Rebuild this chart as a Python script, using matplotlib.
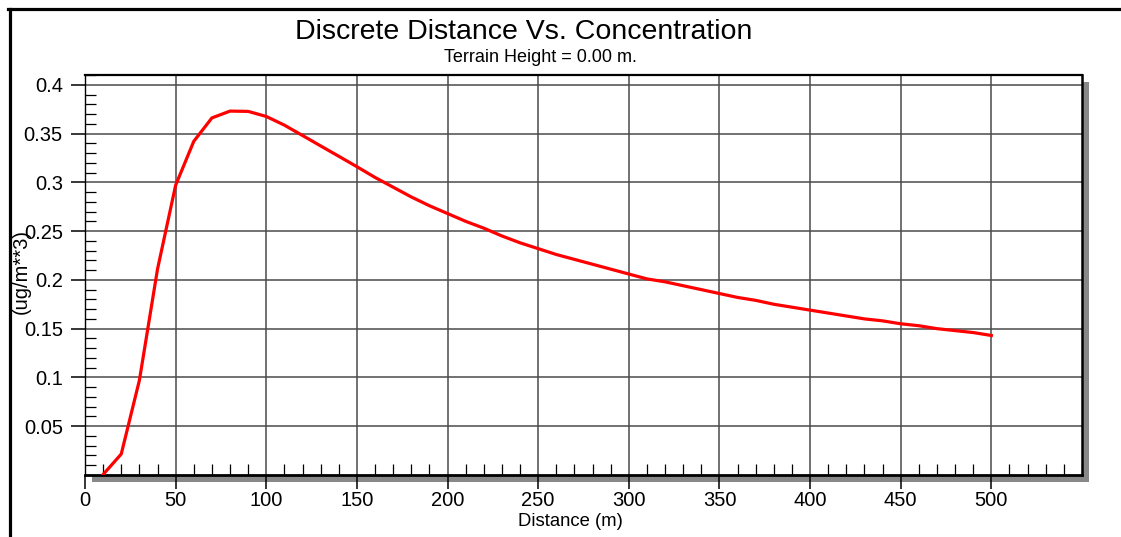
import matplotlib
matplotlib.use("Agg")
import matplotlib.pyplot as plt
from matplotlib.ticker import MultipleLocator
from matplotlib.patches import Rectangle
from matplotlib.lines import Line2D

# distance (m) and concentration (ug/m**3)
distance = [10, 20, 30, 40, 50, 60, 70, 80, 90, 100,
            110, 120, 130, 140, 150, 160, 170, 180, 190, 200,
            210, 220, 230, 240, 250, 260, 270, 280, 290, 300,
            310, 320, 330, 340, 350, 360, 370, 380, 390, 400,
            410, 420, 430, 440, 450, 460, 470, 480, 490, 500]
concentration = [0.0005, 0.0215, 0.097, 0.211, 0.297, 0.342, 0.366, 0.373, 0.3727, 0.3675,
                 0.3586, 0.348, 0.3373, 0.3267, 0.316, 0.305, 0.295, 0.285, 0.276, 0.268,
                 0.260, 0.253, 0.245, 0.238, 0.232, 0.226, 0.221, 0.216, 0.211, 0.206,
                 0.201, 0.198, 0.194, 0.190, 0.186, 0.182, 0.179, 0.175, 0.172, 0.169,
                 0.166, 0.163, 0.160, 0.158, 0.155, 0.153, 0.150, 0.148, 0.146, 0.143]

xticks = [0, 50, 100, 150, 200, 250, 300, 350, 400, 450, 500]
yticks = [0.05, 0.1, 0.15, 0.2, 0.25, 0.3, 0.35, 0.4]
ytick_labels = ['0.05', '0.1', '0.15', '0.2', '0.25', '0.3', '0.35', '0.4']

W, H = 1121, 537
plt.rcParams['font.family'] = ['Liberation Sans', 'DejaVu Sans']

fig = plt.figure(figsize=(W / 100, H / 100), dpi=100)
fig.patch.set_facecolor('white')

# plot area in pixels: left 85, right 1082, top 75, bottom 475
L, R, T, B = 85, 1082, 75, 475
ax = fig.add_axes([L / W, 1 - B / H, (R - L) / W, (B - T) / H])

# drop shadow behind the plot area
fig.patches.append(Rectangle(((L + 7) / W, 1 - (B + 7) / H), (R - L) / W, (B - T) / H,
                             transform=fig.transFigure, facecolor='#888888',
                             edgecolor='none', zorder=-1))

# outer frame (top and left only)
fig.add_artist(Line2D([8 / W, 1], [1 - 8.5 / H, 1 - 8.5 / H], transform=fig.transFigure,
                      color='black', lw=2.3))
fig.add_artist(Line2D([9.5 / W, 9.5 / W], [0, 1 - 8.5 / H], transform=fig.transFigure,
                      color='black', lw=2.3))

ax.plot(distance, concentration, color='#ff0000', lw=2.3, zorder=5)

ax.set_xlim(0, 550)
ax.set_ylim(0, 0.41)
ax.set_xticks(xticks)
ax.set_xticklabels([str(v) for v in xticks])
ax.set_yticks(yticks)
ax.set_yticklabels(ytick_labels)
ax.xaxis.set_minor_locator(MultipleLocator(10))
ax.yaxis.set_minor_locator(MultipleLocator(0.01))

ax.grid(which='major', color='#4a4a4a', lw=1.1)
ax.set_axisbelow(True)

ax.tick_params(which='major', direction='out', length=10, width=1.1, color='black',
               labelsize=14.5, pad=1.5)
ax.tick_params(axis='y', which='major', pad=6)
ax.tick_params(which='minor', direction='in', length=8, width=0.9, color='black')

for side, lw in [('top', 1.6), ('bottom', 2.0), ('right', 1.8), ('left', 1.0)]:
    ax.spines[side].set_linewidth(lw)
    ax.spines[side].set_color('black')

fig.text(524 / W, 1 - 32 / H, 'Discrete Distance Vs. Concentration', ha='center',
         va='center', fontsize=20.5)
fig.text(540 / W, 1 - 58 / H, 'Terrain Height = 0.00 m.', ha='center', va='center',
         fontsize=13)
fig.text(570 / W, 1 - 522 / H, 'Distance (m)', ha='center', va='center', fontsize=13.3)
fig.text(21 / W, 1 - 271 / H, '(ug/m**3)', ha='center', va='center', rotation=90,
         fontsize=14.5)

fig.savefig('out.png', dpi=100)
